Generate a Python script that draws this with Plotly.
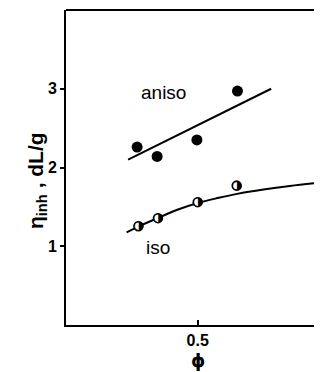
import plotly.graph_objects as go

# Data
aniso_x = [0.27, 0.346, 0.497, 0.651]
aniso_y = [2.26, 2.14, 2.35, 2.97]
aniso_fit_x = [0.236, 0.779]
aniso_fit_y = [2.10, 3.00]

iso_x = [0.275, 0.349, 0.50, 0.648]
iso_y = [1.255, 1.357, 1.56, 1.77]
iso_fit_x = [0.23, 0.275, 0.35, 0.42, 0.50, 0.58, 0.65, 0.75, 0.85, 0.974]
iso_fit_y = [1.175, 1.25, 1.36, 1.46, 1.55, 1.615, 1.665, 1.72, 1.765, 1.81]

x_ticks = [0.5, 1.0]
x_tick_labels = ["0.5", "1"]
y_ticks = [1, 2, 3]
y_tick_labels = ["1", "2", "3"]

FONT = "Liberation Sans"

fig = go.Figure()
fig.add_trace(go.Scatter(x=aniso_fit_x, y=aniso_fit_y, mode="lines",
                         line=dict(color="black", width=2), showlegend=False))
fig.add_trace(go.Scatter(x=iso_fit_x, y=iso_fit_y, mode="lines",
                         line=dict(color="black", width=2, shape="spline"), showlegend=False))
fig.add_trace(go.Scatter(x=aniso_x, y=aniso_y, mode="markers",
                         marker=dict(color="black", size=11, symbol="circle"), showlegend=False))
fig.add_trace(go.Scatter(x=iso_x, y=iso_y, mode="markers",
                         marker=dict(color="white", size=9, symbol="circle",
                                     line=dict(color="black", width=1.5)), showlegend=False))
fig.add_trace(go.Scatter(x=iso_x, y=iso_y, mode="text", text=["◑"] * len(iso_x),
                         textfont=dict(family="DejaVu Sans", size=12, color="black"),
                         textposition="middle center", showlegend=False))

fig.add_annotation(x=0.37, y=2.95, text="aniso", showarrow=False,
                   font=dict(family=FONT, size=19, color="black"))
fig.add_annotation(x=0.35, y=0.99, text="iso", showarrow=False,
                   font=dict(family=FONT, size=19, color="black"))
fig.add_annotation(xref="paper", yref="paper", x=-0.172, y=0.46, textangle=-90,
                   text="<b>η<sub>inh</sub> , dL/g</b>", showarrow=False,
                   font=dict(family=FONT, size=21, color="black"))
fig.add_annotation(xref="x", yref="paper", x=0.5, y=-0.074, yanchor="top",
                   text="<b>ϕ</b>", showarrow=False,
                   font=dict(family="DejaVu Sans", size=18, color="black"))

fig.add_shape(type="line", xref="paper", yref="paper", x0=0, x1=1, y0=1, y1=1,
              line=dict(color="black", width=2))

fig.update_xaxes(range=[0, 0.972], tickvals=x_ticks, ticktext=x_tick_labels,
                 ticks="inside", ticklen=5, tickwidth=1.5, tickcolor="black",
                 showline=True, linecolor="black", linewidth=2, showgrid=False,
                 zeroline=False,
                 tickfont=dict(family=FONT, size=16, color="black", weight="bold"))
fig.update_yaxes(range=[0, 4.0], tickvals=y_ticks, ticktext=y_tick_labels,
                 ticks="outside", ticklen=4, tickwidth=1.5, tickcolor="black",
                 showline=True, linecolor="black", linewidth=2, showgrid=False,
                 zeroline=False,
                 tickfont=dict(family=FONT, size=16, color="black", weight="bold"))

fig.update_layout(width=314, height=364, margin=dict(l=58, r=0, t=2, b=47),
                  plot_bgcolor="white", paper_bgcolor="white", showlegend=False)

fig.write_html("out.html")
